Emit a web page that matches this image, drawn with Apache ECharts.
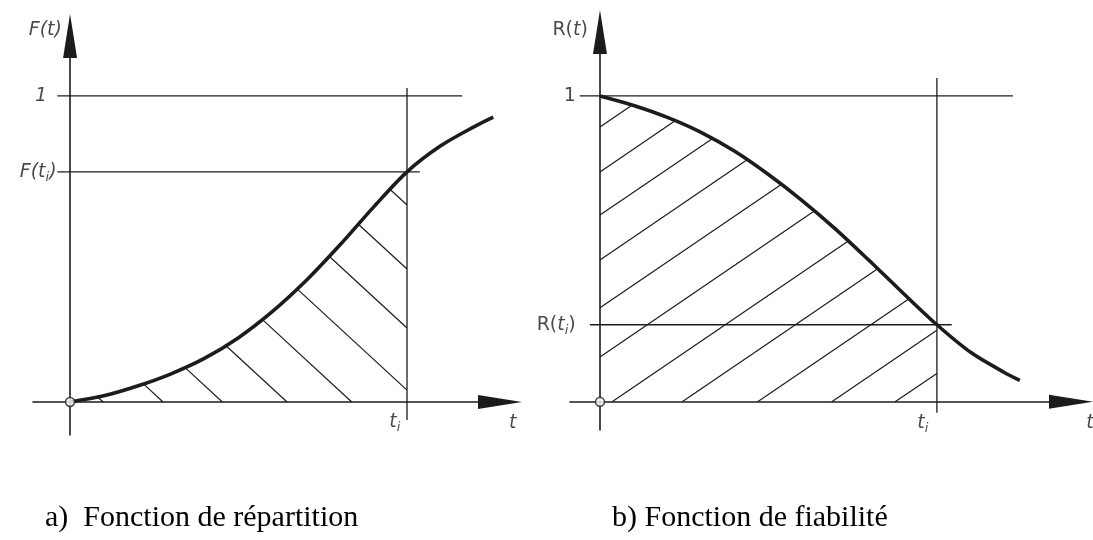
<!DOCTYPE html>
<html>
<head>
<meta charset="utf-8">
<script src="https://cdn.jsdelivr.net/npm/echarts@6/dist/echarts.min.js"></script>
<style>
html, body { margin: 0; padding: 0; background: #fff; }
#chart { width: 1093px; height: 540px; }
</style>
</head>
<body>
<div id="chart"></div>
<script>
// a) fonction de répartition F(t)
const tF = [0, 0.5, 1, 1.5, 2, 2.5, 3, 3.5, 4, 4.5, 5, 5.5, 6, 6.28];
const valF = [0, 0.020, 0.052, 0.092, 0.143, 0.210, 0.295, 0.396, 0.512, 0.636, 0.752, 0.837, 0.900, 0.931];

// b) fonction de fiabilité R(t)
const tR = [0, 0.5, 1, 1.5, 2, 2.5, 3, 3.5, 4, 4.5, 5, 5.5, 6, 6.23];
const valR = [1, 0.969, 0.930, 0.881, 0.819, 0.743, 0.658, 0.564, 0.461, 0.355, 0.252, 0.162, 0.096, 0.070];

const tI = 5;        // t_i
const fTi = 0.752;   // F(t_i)
const rTi = 0.252;   // R(t_i)

// hachures : abscisse où chaque trait coupe l'axe des t, et pente
const hatchF = [0.49, 1.38, 2.26, 3.22, 4.18, 5.19, 6.19, 7.14, 8.17];
const hatchR = [-5.99, -5.01, -4.07, -3.09, -2.05, -0.98, 0.18, 1.22, 2.34, 3.44, 4.38];
const slopeF = 0.203;
const slopeR = 0.15;

// étendue des traits de repère (en unités du graphe)
const refF = { one: [-0.19, 5.82], ti: [-0.19, 5.19], vert: [-0.059, 1.026] };
const refR = { one: [-0.30, 6.13], ti: [-0.15, 5.22], vert: [-0.036, 1.059] };

const chart = echarts.init(document.getElementById('chart'));

const INK = '#1c1c1c';
const SANS = '"DejaVu Sans", "Liberation Sans", sans-serif';

function curveAt(ts, vs, t) {
    for (let i = 1; i < ts.length; i++) {
        if (t <= ts[i]) {
            const a = (t - ts[i - 1]) / (ts[i] - ts[i - 1]);
            return vs[i - 1] + a * (vs[i] - vs[i - 1]);
        }
    }
    return vs[vs.length - 1];
}

// intersection courbe / droite par dichotomie
function meet(ts, vs, lineFn, lo, hi) {
    const g = t => curveAt(ts, vs, t) - lineFn(t);
    for (let k = 0; k < 50; k++) {
        const mid = (lo + hi) / 2;
        if (g(lo) * g(mid) <= 0) hi = mid; else lo = mid;
    }
    return (lo + hi) / 2;
}

function hatchSegmentsF() {
    const segs = [];
    hatchF.forEach(c => {
        const line = t => slopeF * (c - t);
        const tEnd = Math.min(c, tI);
        if (curveAt(tF, valF, tEnd) - line(tEnd) <= 0) return;
        const top = meet(tF, valF, line, 0, tEnd);
        segs.push([[top, curveAt(tF, valF, top)], [tEnd, line(tEnd)]]);
    });
    return segs;
}

function hatchSegmentsR() {
    const segs = [];
    hatchR.forEach(c => {
        const line = t => slopeR * (t - c);
        const tStart = Math.max(c, 0);
        const start = [tStart, line(tStart)];
        let end;
        if (curveAt(tR, valR, tI) - line(tI) < 0) {
            const m = meet(tR, valR, line, tStart, tI);
            end = [m, curveAt(tR, valR, m)];
        } else {
            end = [tI, line(tI)];
        }
        segs.push([start, end]);
    });
    return segs;
}

function lineSeries(idx, data, width, z) {
    return {
        type: 'line', xAxisIndex: idx, yAxisIndex: idx,
        data: data, showSymbol: false, symbol: 'none', silent: true,
        lineStyle: { color: INK, width: width }, z: z, animation: false
    };
}

function textSeries(idx, items) {
    return {
        type: 'scatter', xAxisIndex: idx, yAxisIndex: idx,
        symbolSize: 0, clip: false, silent: true, z: 10, animation: false,
        data: items.map(it => {
            const st = it.italic ? 'italic' : 'normal';
            return {
                value: it.at,
                label: {
                    show: true, formatter: it.text, position: 'inside',
                    align: it.align || 'center', verticalAlign: 'middle',
                    color: INK, fontFamily: SANS, fontSize: 19, fontStyle: st,
                    rich: {
                        b: { fontSize: 19, fontFamily: SANS, color: INK, fontStyle: st },
                        it: { fontSize: 19, fontFamily: SANS, color: INK, fontStyle: 'italic' },
                        sub: { fontSize: 13, fontFamily: SANS, color: INK, fontStyle: 'italic', padding: [11, 0, 0, 0] }
                    }
                }
            };
        })
    };
}

function axisPair(idx, xr, yr) {
    const axisLine = {
        onZero: true,
        symbol: ['none', 'triangle'],
        symbolSize: [14, 44],
        lineStyle: { color: INK, width: 1.6 }
    };
    return {
        x: {
            type: 'value', gridIndex: idx, min: xr[0], max: xr[1],
            axisLine: axisLine, axisTick: { show: false },
            axisLabel: { show: false }, splitLine: { show: false }
        },
        y: {
            type: 'value', gridIndex: idx, min: yr[0], max: yr[1],
            axisLine: axisLine, axisTick: { show: false },
            axisLabel: { show: false }, splitLine: { show: false }
        }
    };
}

const axL = axisPair(0, [-0.55, 6.38], [-0.108, 1.196]);
const axR = axisPair(1, [-0.445, 6.99], [-0.092, 1.209]);

const series = [];

// --- panneau a ---
series.push(lineSeries(0, [[refF.one[0], 1], [refF.one[1], 1]], 1.3, 2));
series.push(lineSeries(0, [[refF.ti[0], fTi], [refF.ti[1], fTi]], 1.3, 2));
series.push(lineSeries(0, [[tI, refF.vert[0]], [tI, refF.vert[1]]], 1.3, 2));
hatchSegmentsF().forEach(s => series.push(lineSeries(0, s, 1.2, 3)));
series.push(Object.assign(lineSeries(0, tF.map((t, i) => [t, valF[i]]), 3.6, 5), { smooth: 0.3 }));

// --- panneau b ---
series.push(lineSeries(1, [[refR.one[0], 1], [refR.one[1], 1]], 1.3, 2));
series.push(lineSeries(1, [[refR.ti[0], rTi], [refR.ti[1], rTi]], 1.3, 2));
series.push(lineSeries(1, [[tI, refR.vert[0]], [tI, refR.vert[1]]], 1.3, 2));
hatchSegmentsR().forEach(s => series.push(lineSeries(1, s, 1.2, 3)));
series.push(Object.assign(lineSeries(1, tR.map((t, i) => [t, valR[i]]), 3.6, 5), { smooth: 0.3 }));

// petits cercles à l'origine
[0, 1].forEach(idx => series.push({
    type: 'scatter', xAxisIndex: idx, yAxisIndex: idx, data: [[0, 0]],
    symbol: 'circle', symbolSize: 9, silent: true, z: 8, animation: false,
    itemStyle: { color: '#fff', borderColor: INK, borderWidth: 1.5 }
}));

// textes des axes
series.push(textSeries(0, [
    { text: '{b|F(t)}', at: [-0.12, 1.216], align: 'right', italic: true },
    { text: '{b|1}', at: [-0.34, 1.0], align: 'right', italic: true },
    { text: '{b|F(t}{sub|i}{b|)}', at: [-0.2, fTi], align: 'right', italic: true },
    { text: '{it|t}{sub|i}', at: [4.82, -0.065] },
    { text: '{it|t}', at: [6.57, -0.068] }
]));
series.push(textSeries(1, [
    { text: '{b|R(}{it|t}{b|)}', at: [-0.18, 1.216], align: 'right' },
    { text: '{b|1}', at: [-0.36, 1.0], align: 'right' },
    { text: '{b|R(}{it|t}{sub|i}{b|)}', at: [-0.36, rTi], align: 'right' },
    { text: '{it|t}{sub|i}', at: [4.79, -0.068] },
    { text: '{it|t}', at: [7.27, -0.068] }
]));

const option = {
    backgroundColor: '#fff',
    animation: false,
    title: [
        { text: 'a)  Fonction de répartition', left: 45, top: 503, padding: 0,
          textStyle: { fontFamily: '"Liberation Serif", "Times New Roman", serif', fontSize: 30, fontWeight: 'normal', color: '#000' } },
        { text: 'b) Fonction de fiabilité', left: 612, top: 503, padding: 0,
          textStyle: { fontFamily: '"Liberation Serif", "Times New Roman", serif', fontSize: 30, fontWeight: 'normal', color: '#000' } }
    ],
    grid: [
        { left: 33, width: 467, top: 36, height: 399 },
        { left: 570, width: 501, top: 32, height: 398 }
    ],
    xAxis: [axL.x, axR.x],
    yAxis: [axL.y, axR.y],
    series: series
};

chart.setOption(option);
</script>
</body>
</html>
